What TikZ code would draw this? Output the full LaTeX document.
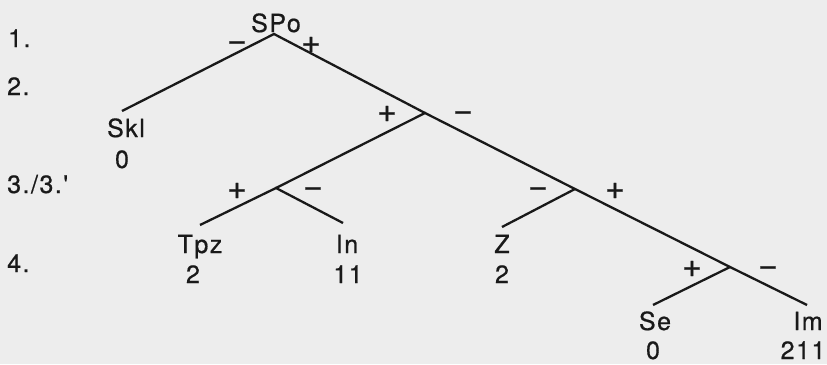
\documentclass[tikz,border=0pt]{standalone}
\usepackage{fontspec}
\setmainfont{TeX Gyre Heros}
\newfontfamily\scanfont[FakeBold=0.6,LetterSpace=6]{TeX Gyre Heros}
\newfontfamily\signfont[FakeBold=0.6]{TeX Gyre Heros}
\begin{document}
\begin{tikzpicture}[x=1pt,y=-1pt,
  lbl/.style={anchor=base,inner sep=0pt,font=\scanfont\fontsize{25pt}{26pt}\selectfont,text=black!90},
  lvl/.style={anchor=base west,inner sep=0pt,font=\scanfont\fontsize{25pt}{26pt}\selectfont,text=black!90},
  sgn/.style={anchor=base,inner sep=0pt,font=\signfont\fontsize{34pt}{34pt}\selectfont,text=black!90},
  edge/.style={line width=2.3pt,draw=black!90}]
\fill[black!7] (0,0) rectangle (827,364);
\useasboundingbox (0,0) rectangle (827,364);
% level labels
\node[lvl] (l1) at (8,47) {1.};
\node[lvl] (l2) at (7,95) {2.};
\node[lvl] (l3) at (7,193) {3./3.'};
\node[lvl] (l4) at (7,272) {4.};
% junctions
\coordinate (A) at (274,34);
\coordinate (N2) at (425,113);
\coordinate (N3) at (276,188);
\coordinate (N4) at (575,189);
\coordinate (N5) at (730,267);
% leaf ends
\coordinate (eSkl) at (122,111);
\coordinate (eTpz) at (200,225);
\coordinate (eIn) at (343,223);
\coordinate (eZ) at (502,227);
\coordinate (eSe) at (653,305);
\coordinate (eIm) at (807,305);
% texts
\node[lbl] (SPo) at (276,32) {SPo};
\node[lbl] (Skl) at (126,137) {Skl};
\node[lbl] (Skl0) at (122,168) {0};
\node[lbl] (Tpz) at (200,253) {Tpz};
\node[lbl] (Tpz2) at (193,283) {2};
\node[lbl] (In) at (347,253) {In};
\node[lbl] (In11) at (348,283) {11};
\node[lbl] (Z) at (502,253) {Z};
\node[lbl] (Z2) at (502,283) {2};
\node[lbl] (Se) at (655,330) {Se};
\node[lbl] (Se0) at (653,359) {0};
\node[lbl] (Im) at (808,330) {Im};
\node[lbl] (Im211) at (803,359) {211};
% edges
\draw[edge] (eSkl) -- (A) -- (N2);
\draw[edge] (N3) -- (N2) -- (N4) -- (N5) -- (eIm);
\draw[edge] (eTpz) -- (N3) -- (eIn);
\draw[edge] (eZ) -- (N4);
\draw[edge] (eSe) -- (N5);
% signs
\node[sgn] (s1m) at (237,51) {−};
\node[sgn] (s1p) at (311,53) {+};
\node[sgn] (s2p) at (387,122) {+};
\node[sgn] (s2m) at (463,121) {−};
\node[sgn] (s3p) at (237,199) {+};
\node[sgn] (s3m) at (313,197) {−};
\node[sgn] (s4m) at (538,197) {−};
\node[sgn] (s4p) at (615,199) {+};
\node[sgn] (s5p) at (692,277) {+};
\node[sgn] (s5m) at (768,276) {−};
\end{tikzpicture}
\end{document}
